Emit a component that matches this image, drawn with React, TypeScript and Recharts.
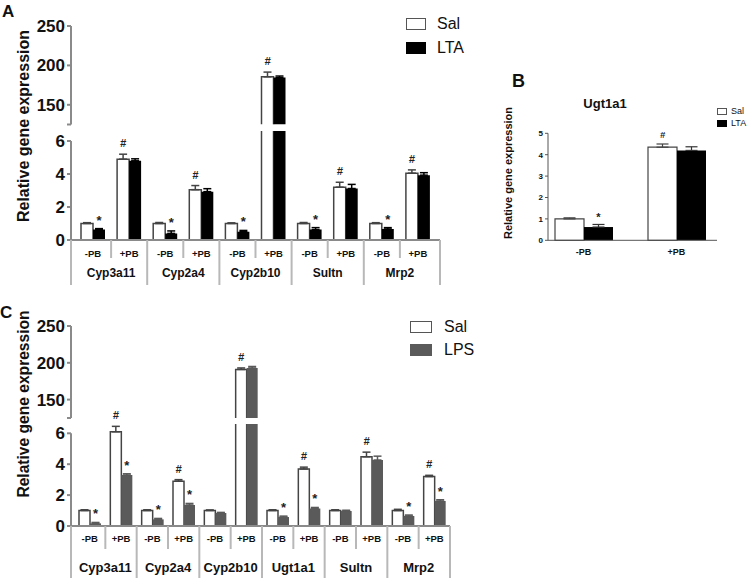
import React from 'react';
import { BarChart, Bar, XAxis, YAxis, ErrorBar, LabelList, Legend, Cell } from 'recharts';

const W = 754;
const H = 580;
const FONT = '"Liberation Sans", Arial, sans-serif';
const PB = ['-PB', '+PB'];
const LO_TOP_TICK = 6;
const LO_MAX = 6.6;
const HI_MIN = 125;
const HI_MAX = 250;

// panel A: saline vs LTA
const genesA = ['Cyp3a11', 'Cyp2a4', 'Cyp2b10', 'Sultn', 'Mrp2'];
const salA = [1.0, 4.9, 1.0, 3.05, 1.0, 185.5, 1.0, 3.2, 1.0, 4.05];
const salAErr = [0.05, 0.3, 0.06, 0.25, 0.04, 6, 0.06, 0.3, 0.05, 0.2];
const ltaA = [0.63, 4.8, 0.4, 2.93, 0.5, 184.5, 0.63, 3.12, 0.67, 3.93];
const ltaAErr = [0.06, 0.12, 0.15, 0.18, 0.08, 2, 0.12, 0.25, 0.08, 0.15];
const salAMarks = ['', '#', '', '#', '', '#', '', '#', '', '#'];
const ltaAMarks = ['*', '', '*', '', '*', '', '*', '', '*', ''];

// panel B: Ugt1a1, saline vs LTA
const salB = [1.0, 4.35];
const salBErr = [0.05, 0.15];
const ltaB = [0.62, 4.2];
const ltaBErr = [0.12, 0.17];
const salBMarks = ['', '#'];
const ltaBMarks = ['*', ''];

// panel C: saline vs LPS
const genesC = ['Cyp3a11', 'Cyp2a4', 'Cyp2b10', 'Ugt1a1', 'Sultn', 'Mrp2'];
const salC = [1.0, 6.1, 1.0, 2.9, 1.0, 191, 1.0, 3.69, 1.0, 4.48, 1.0, 3.2];
const salCErr = [0.05, 0.35, 0.05, 0.1, 0.04, 2, 0.05, 0.12, 0.05, 0.3, 0.08, 0.08];
const lpsC = [0.17, 3.3, 0.43, 1.36, 0.84, 193, 0.58, 1.14, 0.97, 4.27, 0.65, 1.62];
const lpsCErr = [0.06, 0.08, 0.06, 0.1, 0.04, 2, 0.06, 0.06, 0.05, 0.25, 0.06, 0.08];
const salCMarks = ['', '#', '', '#', '', '#', '', '#', '', '#', '', '#'];
const lpsCMarks = ['*', '*', '*', '*', '', '', '*', '*', '', '', '*', '*'];

function buildRows(genes: string[], sal: number[], salErr: number[], trt: number[], trtErr: number[]) {
  return genes.flatMap((gene, gi) =>
    PB.map((pb, pi) => {
      const i = gi * 2 + pi;
      const over = (v: number) => v > LO_MAX;
      return {
        key: `${gene} ${pb}`,
        gene,
        pb,
        sal: sal[i],
        salErr: over(sal[i]) ? null : [0, salErr[i]],
        salHiErr: over(sal[i]) ? [0, salErr[i]] : null,
        trt: trt[i],
        trtErr: over(trt[i]) ? null : [0, trtErr[i]],
        trtHiErr: over(trt[i]) ? [0, trtErr[i]] : null,
      };
    })
  );
}

const rowsA = buildRows(genesA, salA, salAErr, ltaA, ltaAErr);
const rowsC = buildRows(genesC, salC, salCErr, lpsC, lpsCErr);
const rowsB = PB.map((pb, i) => ({
  pb,
  sal: salB[i],
  salErr: [0, salBErr[i]],
  lta: ltaB[i],
  ltaErr: [0, ltaBErr[i]],
}));

const markContent =
  (marks: string[], errs: number[], pxPerUnit: number, minV: number, maxV: number, size = 1) =>
  (props: any) => {
    const vb = props.viewBox ?? props;
    const i = props.index;
    const v = props.value;
    const m = marks[i];
    if (!m || v == null || v > maxV || v < minV) return null;
    const x = vb.x + vb.width / 2;
    const top = Math.min(vb.y, vb.y + vb.height) - errs[i] * pxPerUnit;
    const isHash = m === '#';
    return (
      <text
        x={x}
        y={top - (isHash ? 7 : 4) * size}
        textAnchor="middle"
        fontFamily={FONT}
        fontSize={(isHash ? 11 : 13) * size}
        fontWeight="bold"
        fontStyle={isHash ? 'italic' : 'normal'}
        fill="#222"
      >
        {m}
      </text>
    );
  };

function legendBox(
  items: { label: string; fill: string; stroke: string }[],
  box: [number, number],
  fontSize: number,
  rowH: number,
  gap: number
) {
  return () => (
    <div style={{ fontFamily: FONT }}>
      {items.map((it) => (
        <div key={it.label} style={{ display: 'flex', alignItems: 'center', height: rowH }}>
          <div
            style={{
              width: box[0],
              height: box[1],
              background: it.fill,
              border: `1.5px solid ${it.stroke}`,
              boxSizing: 'border-box',
              marginRight: gap,
            }}
          />
          <span style={{ fontSize, color: '#111', lineHeight: 1 }}>{it.label}</span>
        </div>
      ))}
    </div>
  );
}

type PanelCfg = {
  rows: ReturnType<typeof buildRows>;
  left: number;
  right: number;
  padL: number;
  padR: number;
  upperTop: number;
  upperBottom: number;
  lowerTop: number; // y of the 6 tick
  lowerBottom: number;
  barSize: number;
  trtFill: string;
  trtName: string;
  salMarks: string[];
  trtMarks: string[];
  salErrs: number[];
  trtErrs: number[];
  pbY: number;
  geneY: number;
  shortEnd: number;
  longEnd: number;
  pbFont: number;
  geneFont: number;
  legend: { left: number; top: number; rowH: number; box: [number, number]; gap: number };
};

const SAL_STROKE = '#444';
const AXIS = '#8a8a8a';
const TABLE = '#b8b8b8';
const yTick = { fill: '#111', fontSize: 17, fontWeight: 'bold', fontFamily: FONT };

function BrokenPanel({ cfg }: { cfg: PanelCfg }) {
  const n = cfg.rows.length;
  const bw = (cfg.right - cfg.left - cfg.padL - cfg.padR) / n;
  const upPx = (cfg.upperBottom - cfg.upperTop) / (HI_MAX - HI_MIN);
  const loPx = (cfg.lowerBottom - cfg.lowerTop) / LO_TOP_TICK;
  const extra = (LO_MAX - LO_TOP_TICK) * loPx;
  const plotTop = cfg.lowerTop - extra;
  const xAxisH = 40;

  const tableTick = (props: any) => {
    const { x } = props;
    const i = props.index ?? props.payload?.index ?? 0;
    const row = cfg.rows[i];
    if (!row) return <g />;
    const groupStart = i % 2 === 0;
    const lx = i === 0 ? cfg.left : x - bw / 2;
    return (
      <g>
        <line x1={lx} x2={lx} y1={cfg.lowerBottom} y2={groupStart ? cfg.longEnd : cfg.shortEnd} stroke={TABLE} strokeWidth={2} />
        {i === n - 1 && (
          <line x1={cfg.right} x2={cfg.right} y1={cfg.lowerBottom} y2={cfg.longEnd} stroke={TABLE} strokeWidth={2} />
        )}
        <text x={x} y={cfg.pbY} textAnchor="middle" dominantBaseline="central" fontFamily={FONT} fontSize={cfg.pbFont} fontWeight="bold" fill="#111">
          {row.pb}
        </text>
        {groupStart && (
          <text x={x + bw / 2} y={cfg.geneY} textAnchor="middle" dominantBaseline="central" fontFamily={FONT} fontSize={cfg.geneFont} fontWeight="bold" fill="#111">
            {row.gene}
          </text>
        )}
      </g>
    );
  };

  const commonY = {
    width: 60,
    allowDataOverflow: true,
    tickLine: { stroke: AXIS, strokeWidth: 2 },
    tickSize: 4,
    tickMargin: 2,
    tick: yTick,
  };

  // upper segment: only bars above the break are shown, with an open bottom
  const openBottom = (v: number) => {
    const h = (v - HI_MIN) * upPx;
    return `${cfg.barSize + h} ${cfg.barSize} ${h + 4}`;
  };

  return (
    <>
      <div style={{ position: 'absolute', left: 0, top: 0 }}>
        <BarChart
          width={W}
          height={H}
          data={cfg.rows}
          barGap={0}
          barSize={cfg.barSize}
          margin={{ top: cfg.upperTop, bottom: H - cfg.upperBottom, left: cfg.left - 60, right: W - cfg.right }}
        >
          <XAxis dataKey="key" hide padding={{ left: cfg.padL, right: cfg.padR }} />
          <YAxis
            {...commonY}
            axisLine={{ stroke: AXIS, strokeWidth: 2 }}
            domain={[HI_MIN, HI_MAX]}
            ticks={[125, 150, 200, 250]}
            tickFormatter={(v: number) => (v === HI_MIN ? '' : String(v))}
          />
          <Bar dataKey="sal" strokeWidth={1.5} isAnimationActive={false}>
            {cfg.rows.map((r) => (
              <Cell
                key={r.key}
                fill={r.sal > LO_MAX ? '#fff' : 'none'}
                stroke={r.sal > LO_MAX ? SAL_STROKE : 'none'}
                strokeDasharray={r.sal > LO_MAX ? openBottom(r.sal) : undefined}
              />
            ))}
            <ErrorBar dataKey="salHiErr" width={4} stroke={SAL_STROKE} strokeWidth={1.5} />
            <LabelList content={markContent(cfg.salMarks, cfg.salErrs, upPx, HI_MIN, HI_MAX)} />
          </Bar>
          <Bar dataKey="trt" isAnimationActive={false}>
            {cfg.rows.map((r) => (
              <Cell key={r.key} fill={r.trt > LO_MAX ? cfg.trtFill : 'none'} stroke="none" />
            ))}
            <ErrorBar dataKey="trtHiErr" width={4} stroke={cfg.trtFill} strokeWidth={1.5} />
            <LabelList content={markContent(cfg.trtMarks, cfg.trtErrs, upPx, HI_MIN, HI_MAX)} />
          </Bar>
        </BarChart>
      </div>
      <div style={{ position: 'absolute', left: 0, top: 0 }}>
        <BarChart
          width={W}
          height={H}
          data={cfg.rows}
          barGap={0}
          barSize={cfg.barSize}
          margin={{ top: plotTop, bottom: H - cfg.lowerBottom - xAxisH, left: cfg.left - 60, right: W - cfg.right }}
        >
          <XAxis
            dataKey="key"
            height={xAxisH}
            interval={0}
            padding={{ left: cfg.padL, right: cfg.padR }}
            axisLine={{ stroke: AXIS, strokeWidth: 2 }}
            tickLine={false}
            tick={tableTick}
          />
          <YAxis
            {...commonY}
            axisLine={{ stroke: AXIS, strokeWidth: 2, strokeDasharray: `0 ${extra} ${H}` }}
            domain={[0, LO_MAX]}
            ticks={[0, 2, 4, 6]}
          />
          <Legend
            layout="vertical"
            align="center"
            verticalAlign="middle"
            wrapperStyle={{ left: cfg.legend.left, top: cfg.legend.top, width: 'auto' }}
            content={legendBox(
              [
                { label: 'Sal', fill: '#fff', stroke: '#555' },
                { label: cfg.trtName, fill: cfg.trtFill, stroke: cfg.trtFill },
              ],
              cfg.legend.box,
              16,
              cfg.legend.rowH,
              cfg.legend.gap
            )}
          />
          <Bar dataKey="sal" name="Sal" fill="#fff" stroke={SAL_STROKE} strokeWidth={1.5} isAnimationActive={false}>
            <ErrorBar dataKey="salErr" width={4} stroke={SAL_STROKE} strokeWidth={1.5} />
            <LabelList content={markContent(cfg.salMarks, cfg.salErrs, loPx, 0, LO_MAX)} />
          </Bar>
          <Bar dataKey="trt" name={cfg.trtName} fill={cfg.trtFill} isAnimationActive={false}>
            <ErrorBar dataKey="trtErr" width={4} stroke={cfg.trtFill} strokeWidth={1.5} />
            <LabelList content={markContent(cfg.trtMarks, cfg.trtErrs, loPx, 0, LO_MAX)} />
          </Bar>
        </BarChart>
      </div>
    </>
  );
}

const panelA: PanelCfg = {
  rows: rowsA,
  left: 71,
  right: 440,
  padL: 4,
  padR: 4,
  upperTop: 26,
  upperBottom: 124.5,
  lowerTop: 141,
  lowerBottom: 240,
  barSize: 12,
  trtFill: '#000',
  trtName: 'LTA',
  salMarks: salAMarks,
  trtMarks: ltaAMarks,
  salErrs: salAErr,
  trtErrs: ltaAErr,
  pbY: 253,
  geneY: 273,
  shortEnd: 258,
  longEnd: 285,
  pbFont: 9.5,
  geneFont: 12,
  legend: { left: 406, top: 12, rowH: 24, box: [20, 12], gap: 11 },
};

const panelC: PanelCfg = {
  rows: rowsC,
  left: 71,
  right: 450,
  padL: 3,
  padR: 0,
  upperTop: 326,
  upperBottom: 418,
  lowerTop: 433.3,
  lowerBottom: 526,
  barSize: 11,
  trtFill: '#5a5a5a',
  trtName: 'LPS',
  salMarks: salCMarks,
  trtMarks: lpsCMarks,
  salErrs: salCErr,
  trtErrs: lpsCErr,
  pbY: 538,
  geneY: 567,
  shortEnd: 549,
  longEnd: 578,
  pbFont: 9.5,
  geneFont: 13,
  legend: { left: 410, top: 315, rowH: 23, box: [22, 12], gap: 12 },
};

function PanelB() {
  const pxPerUnit = (240.3 - 133.3) / 5;
  return (
    <div style={{ position: 'absolute', left: 0, top: 0 }}>
      <BarChart
        width={W}
        height={H}
        data={rowsB}
        barGap={0}
        barSize={29}
        margin={{ top: 133.3, bottom: H - 240.3 - 20, left: 548 - 30, right: W - 717 }}
      >
        <XAxis
          dataKey="pb"
          height={20}
          padding={{ left: -11, right: -6 }}
          axisLine={{ stroke: '#555', strokeWidth: 1 }}
          tickLine={false}
          tickSize={4}
          tickMargin={4}
          tick={{ fill: '#111', fontSize: 9, fontWeight: 'bold', fontFamily: FONT }}
        />
        <YAxis
          width={30}
          domain={[0, 5]}
          ticks={[0, 1, 2, 3, 4, 5]}
          axisLine={{ stroke: '#555', strokeWidth: 1 }}
          tickLine={{ stroke: '#555' }}
          tickSize={3}
          tickMargin={2}
          tick={{ fill: '#111', fontSize: 8, fontWeight: 'bold', fontFamily: FONT }}
        />
        <Legend
          layout="vertical"
          align="center"
          verticalAlign="middle"
          wrapperStyle={{ left: 717, top: 105, width: 'auto' }}
          content={legendBox(
            [
              { label: 'Sal', fill: '#fff', stroke: '#555' },
              { label: 'LTA', fill: '#000', stroke: '#000' },
            ],
            [10, 7],
            9,
            12,
            4
          )}
        />
        <Bar dataKey="sal" name="Sal" fill="#fff" stroke={SAL_STROKE} strokeWidth={1.2} isAnimationActive={false}>
          <ErrorBar dataKey="salErr" width={6} stroke={SAL_STROKE} strokeWidth={1.2} />
          <LabelList content={markContent(salBMarks, salBErr, pxPerUnit, 0, 5, 0.85)} />
        </Bar>
        <Bar dataKey="lta" name="LTA" fill="#000" isAnimationActive={false}>
          <ErrorBar dataKey="ltaErr" width={6} stroke="#333" strokeWidth={1.2} />
          <LabelList content={markContent(ltaBMarks, ltaBErr, pxPerUnit, 0, 5, 0.85)} />
        </Bar>
      </BarChart>
    </div>
  );
}

export default function App() {
  return (
    <div style={{ position: 'absolute', left: 0, top: 0, width: W, height: H, background: '#fff', overflow: 'hidden' }}>
      <BrokenPanel cfg={panelA} />
      <PanelB />
      <BrokenPanel cfg={panelC} />
      <svg width={W} height={H} style={{ position: 'absolute', left: 0, top: 0, pointerEvents: 'none' }}>
        <g fontFamily={FONT} fontWeight="bold" fill="#111">
          <text x={2} y={17} fontSize={17}>A</text>
          <text x={512} y={87} fontSize={18}>B</text>
          <text x={0} y={318} fontSize={17}>C</text>
          <text x={605} y={103} fontSize={13} textAnchor="middle" dominantBaseline="central">Ugt1a1</text>
          <text transform="translate(23,126) rotate(-90)" fontSize={16} textAnchor="middle" dominantBaseline="central">
            Relative gene expression
          </text>
          <text transform="translate(23,404) rotate(-90)" fontSize={15.6} textAnchor="middle" dominantBaseline="central">
            Relative gene expression
          </text>
          <text transform="translate(508,173) rotate(-90)" fontSize={11} textAnchor="middle" dominantBaseline="central">
            Relative gene expression
          </text>
        </g>
      </svg>
    </div>
  );
}
